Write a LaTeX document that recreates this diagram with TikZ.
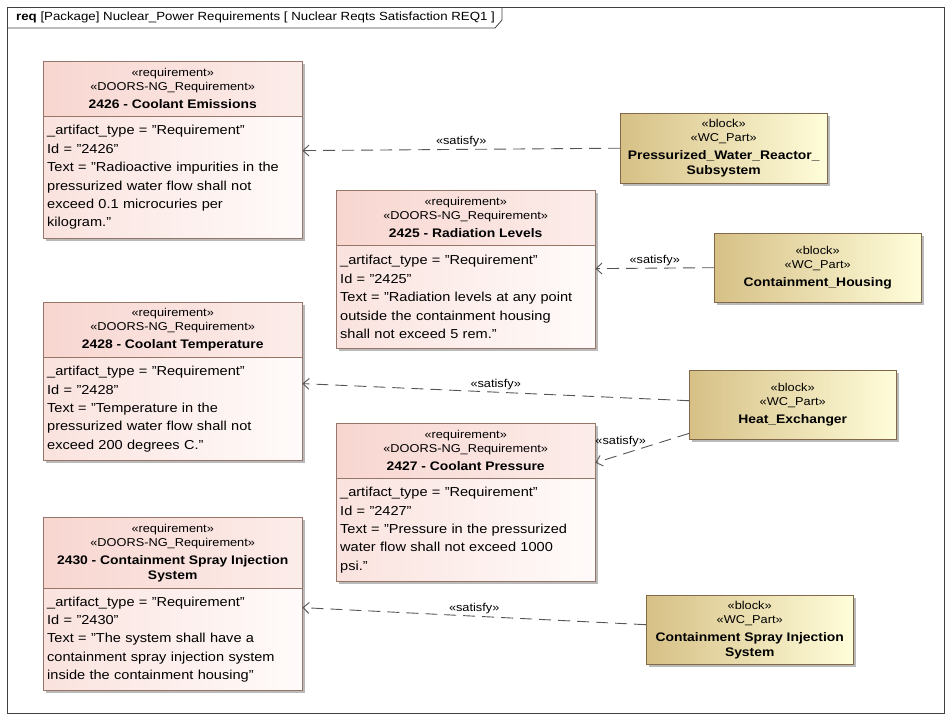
\documentclass[tikz,border=0pt]{standalone}
\usepackage{fontspec}
\setmainfont{Liberation Sans}[FakeStretch=1.12]
\usetikzlibrary{positioning,shadows,arrows.meta}
\definecolor{reqpink}{RGB}{248,214,208}
\definecolor{reqwhite}{RGB}{255,251,250}
\definecolor{reqline}{RGB}{150,118,104}
\definecolor{blkdark}{RGB}{214,192,134}
\definecolor{blklight}{RGB}{255,253,218}
\definecolor{blkline}{RGB}{128,104,72}
\definecolor{satline}{RGB}{85,85,85}
\tikzset{
 shd/.style
  = {drop shadow={shadow xshift=2.5pt, shadow yshift=-2.5pt, fill=black!45, opacity=.6}},
 hdr/.style
  = {rectangle, draw=reqline, left color=reqpink, right color=reqpink!45!white,
     text width=251pt, inner sep=4pt, align=center, minimum height=55pt,
     font=\fontsize{11.4}{14}\selectfont, shd, anchor=north west},
 bdy/.style
  = {rectangle, draw=reqline, left color=reqpink!70!white, right color=reqwhite,
     text width=251pt, inner sep=4pt, align=left, minimum height=103pt,
     font=\fontsize{13}{18.4}\selectfont, shd, below=0pt of #1},
 blk/.style
  = {rectangle, draw=blkline, left color=blkdark, right color=blklight,
     minimum width=207pt, minimum height=69pt, inner sep=2pt, align=center,
     font=\fontsize{11.4}{14}\selectfont, shd, anchor=north west},
 sat/.style
  = {draw=satline, line width=0.9pt, dash pattern=on 12pt off 7pt,
     -{Straight Barb[length=6pt,width=11pt]}},
 satlbl/.style
  = {font=\fontsize{11.4}{14}\selectfont, text=black, inner sep=2pt}
}
\newcommand{\rtitle}[1]{{\fontsize{12.4}{15}\selectfont\bfseries #1}}

\begin{document}
\begin{tikzpicture}[x=1pt, y=-1pt]
    \useasboundingbox (0,0) rectangle (952,720);
    % frame
    \draw [black!75, line width=0.8pt] (7,7) rectangle (944,713);
    \draw [black!75, line width=0.8pt] (7,28) -- (495,28) -- (502,20) -- (502,7);
    \node [anchor=west, inner sep=0pt, font=\fontsize{11.85}{14}\selectfont] (frame) at (16,17)
      {\textbf{req} [Package] Nuclear\_Power Requirements [ Nuclear Reqts Satisfaction REQ1 ]};

    % requirements
    \node [hdr] (req2426) at (43,61) {«requirement»\\«DOORS-NG\_Requirement»\\[4pt]\rtitle{2426 - Coolant Emissions}};
    \node [bdy=req2426, minimum height=122pt] (req2426b) {\_artifact\_type = "Requirement"\\Id = "2426"\\Text = "Radioactive impurities in the\\pressurized water flow shall not\\exceed 0.1 microcuries per\\kilogram."};

    \node [hdr] (req2425) at (336,190) {«requirement»\\«DOORS-NG\_Requirement»\\[4pt]\rtitle{2425 - Radiation Levels}};
    \node [bdy=req2425] (req2425b) {\_artifact\_type = "Requirement"\\Id = "2425"\\Text = "Radiation levels at any point\\outside the containment housing\\shall not exceed 5 rem."};

    \node [hdr] (req2428) at (43,302) {«requirement»\\«DOORS-NG\_Requirement»\\[4pt]\rtitle{2428 - Coolant Temperature}};
    \node [bdy=req2428] (req2428b) {\_artifact\_type = "Requirement"\\Id = "2428"\\Text = "Temperature in the\\pressurized water flow shall not\\exceed 200 degrees C."};

    \node [hdr] (req2427) at (336,423) {«requirement»\\«DOORS-NG\_Requirement»\\[4pt]\rtitle{2427 - Coolant Pressure}};
    \node [bdy=req2427] (req2427b) {\_artifact\_type = "Requirement"\\Id = "2427"\\Text = "Pressure in the pressurized\\water flow shall not exceed 1000\\psi."};

    \node [hdr, minimum height=71pt] (req2430) at (43,517) {«requirement»\\«DOORS-NG\_Requirement»\\[4pt]\rtitle{2430 - Containment Spray Injection}\\[1pt]\rtitle{System}};
    \node [bdy=req2430, minimum height=102pt] (req2430b) {\_artifact\_type = "Requirement"\\Id = "2430"\\Text = "The system shall have a\\containment spray injection system\\inside the containment housing"};

    % blocks
    \node [blk, minimum height=70pt] (pwr) at (620,113) {«block»\\«WC\_Part»\\[4pt]\rtitle{Pressurized\_Water\_Reactor\_}\\[1pt]\rtitle{Subsystem}};
    \node [blk] (housing) at (714,233) {«block»\\«WC\_Part»\\[4pt]\rtitle{Containment\_Housing}};
    \node [blk] (heatex) at (689,370) {«block»\\«WC\_Part»\\[4pt]\rtitle{Heat\_Exchanger}};
    \node [blk] (spray) at (646,595) {«block»\\«WC\_Part»\\[4pt]\rtitle{Containment Spray Injection}\\[1pt]\rtitle{System}};

    % satisfy links
    \path [sat] (pwr.west) -- ([yshift=27pt]req2426b.east) node[midway, above, satlbl]{«satisfy»};
    \path [sat] (housing.west) -- ([yshift=28.5pt]req2425b.east) node[midway, above, satlbl]{«satisfy»};
    \path [sat] ([yshift=4pt]heatex.west) -- ([yshift=25.5pt]req2428b.east) node[midway, above, satlbl]{«satisfy»};
    \path [sat] ([yshift=6pt]heatex.south west) -- ([yshift=-12pt]req2427.east) node[pos=.73, above=5pt, satlbl]{«satisfy»};
    \path [sat] ([yshift=5pt]spray.west) -- ([yshift=32pt]req2430b.east) node[midway, above, satlbl]{«satisfy»};
\end{tikzpicture}
\end{document}
